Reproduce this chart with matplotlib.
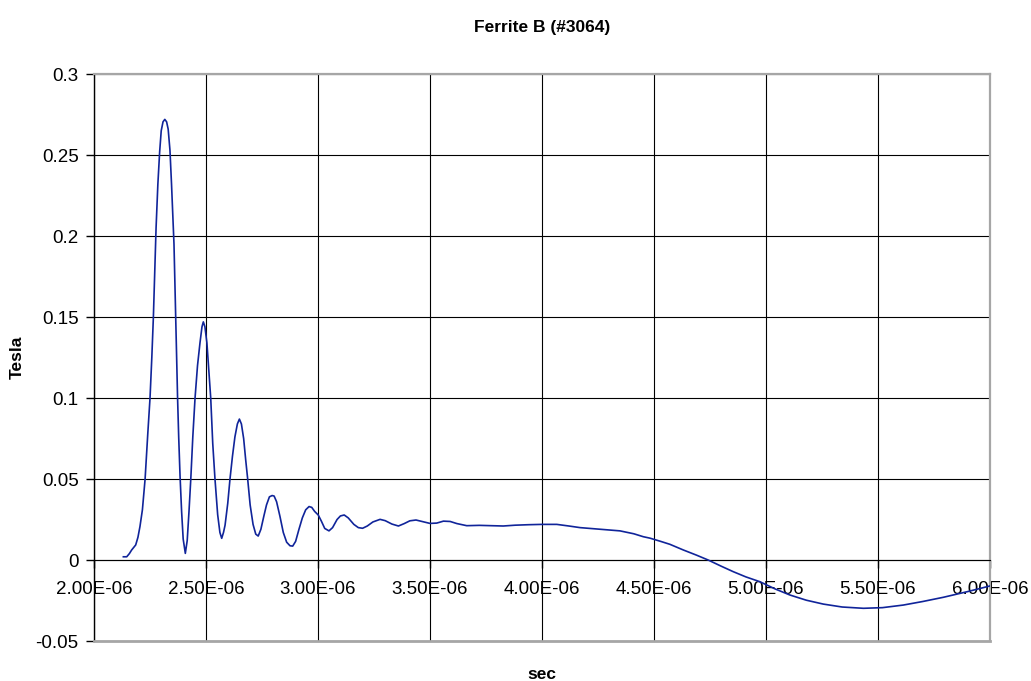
import numpy as np
import matplotlib
matplotlib.use("Agg")
import matplotlib.pyplot as plt
from matplotlib.ticker import FuncFormatter, MultipleLocator

plt.rcParams['font.family'] = ['Liberation Sans', 'DejaVu Sans']

# time in microseconds, flux density in tesla
time_us = [2.131, 2.146, 2.158, 2.168, 2.186, 2.196, 2.205, 2.216, 2.228, 2.240,
           2.250, 2.258, 2.265, 2.271, 2.277, 2.285, 2.293, 2.300, 2.308, 2.316,
           2.324, 2.331, 2.339, 2.346, 2.352, 2.357, 2.361, 2.365, 2.369, 2.373,
           2.378, 2.384, 2.391, 2.398, 2.4076, 2.416, 2.424, 2.432, 2.441, 2.451,
           2.462, 2.473, 2.482, 2.488, 2.495, 2.504, 2.512, 2.521, 2.530, 2.540,
           2.552, 2.562, 2.570, 2.578, 2.585, 2.597, 2.607, 2.618, 2.629, 2.640,
           2.649, 2.658, 2.668, 2.677, 2.686, 2.697, 2.710, 2.722, 2.733, 2.745,
           2.758, 2.770, 2.783, 2.795, 2.804, 2.815, 2.830, 2.845, 2.860, 2.875,
           2.887, 2.900, 2.915, 2.930, 2.945, 2.960, 2.972, 2.985, 3.001, 3.015,
           3.030, 3.049, 3.065, 3.085, 3.100, 3.117, 3.135, 3.160, 3.180, 3.199,
           3.220, 3.245, 3.277, 3.300, 3.330, 3.359, 3.385, 3.410, 3.4375, 3.470,
           3.500, 3.530, 3.560, 3.590, 3.620, 3.664, 3.720, 3.780, 3.827, 3.880,
           3.940, 4.000, 4.066, 4.120, 4.170, 4.260, 4.348, 4.410, 4.452, 4.482,
           4.530, 4.571, 4.631, 4.690, 4.742, 4.800, 4.854, 4.910, 4.973, 5.040,
           5.107, 5.180, 5.256, 5.340, 5.435, 5.520, 5.613, 5.700, 5.792, 5.900,
           6.000]
tesla = [0.002, 0.002, 0.004, 0.0062, 0.0093, 0.014, 0.0206, 0.031, 0.050, 0.078,
         0.100, 0.125, 0.150, 0.178, 0.205, 0.232, 0.252, 0.265, 0.2705, 0.272,
         0.2705, 0.266, 0.253, 0.232, 0.212, 0.195, 0.172, 0.150, 0.124, 0.100,
         0.076, 0.052, 0.030, 0.013, 0.0041, 0.012, 0.030, 0.050, 0.076, 0.100,
         0.120, 0.134, 0.144, 0.147, 0.144, 0.134, 0.118, 0.100, 0.072, 0.050,
         0.028, 0.017, 0.0134, 0.017, 0.0215, 0.035, 0.050, 0.064, 0.076, 0.084,
         0.087, 0.084, 0.075, 0.062, 0.050, 0.034, 0.022, 0.016, 0.0148, 0.019,
         0.027, 0.034, 0.039, 0.0398, 0.0395, 0.036, 0.027, 0.017, 0.011, 0.0088,
         0.0086, 0.0115, 0.019, 0.026, 0.031, 0.033, 0.0325, 0.030, 0.0278, 0.024,
         0.0195, 0.018, 0.020, 0.025, 0.0272, 0.0278, 0.026, 0.022, 0.0200, 0.0196,
         0.021, 0.0235, 0.0251, 0.0243, 0.0222, 0.0210, 0.0225, 0.0242, 0.0247, 0.0236,
         0.0226, 0.0228, 0.0240, 0.0238, 0.0225, 0.0212, 0.0214, 0.0212, 0.0210, 0.0215,
         0.0218, 0.0220, 0.0220, 0.0210, 0.0200, 0.0190, 0.0180, 0.0162, 0.0144, 0.0135,
         0.0115, 0.0097, 0.0062, 0.0030, 0.0, -0.0038, -0.0072, -0.0104, -0.0134, -0.0178,
         -0.0216, -0.0248, -0.0272, -0.0290, -0.0298, -0.0294, -0.0278, -0.0256, -0.0230, -0.0195,
         -0.0160]

t = np.array(time_us) * 1e-6
b = np.array(tesla)

fig = plt.figure(figsize=(10.31, 6.81), dpi=100)
ax = fig.add_axes([0.0912, 0.0587, 0.869, 0.8326])

ax.plot(t, b, color='#10249a', lw=1.2, zorder=4)

ax.set_xlim(2e-6, 6e-6)
ax.set_ylim(-0.05, 0.3)
ax.xaxis.set_major_locator(MultipleLocator(0.5e-6))
ax.yaxis.set_major_locator(MultipleLocator(0.05))
ax.xaxis.set_major_formatter(FuncFormatter(lambda v, p: f"{v:.2E}"))
ax.yaxis.set_major_formatter(FuncFormatter(lambda v, p: f"{round(v, 4):g}"))

ax.grid(True, color='black', lw=0.8)
ax.set_axisbelow(True)

gray = '#a6a6a6'
for s in ['top', 'right']:
    ax.spines[s].set_color(gray)
    ax.spines[s].set_linewidth(1.6)
ax.spines['left'].set_color('black')
ax.spines['left'].set_linewidth(1.0)
ax.spines['bottom'].set_position(('data', 0))
ax.spines['bottom'].set_color('black')
ax.spines['bottom'].set_linewidth(0.8)
ax.axhline(-0.05, color=gray, lw=2.0, zorder=3, clip_on=False)

ax.tick_params(axis='both', direction='out', length=6, width=1, labelsize=13.5,
               colors='black')
ax.tick_params(axis='y', pad=5)
ax.tick_params(axis='x', pad=9)

fig.text(0.526, 0.960, 'Ferrite B (#3064)', ha='center', va='center',
         fontsize=12.5, fontweight='bold')
fig.text(0.526, 0.009, 'sec', ha='center', va='center',
         fontsize=12.5, fontweight='bold')
fig.text(0.017, 0.475, 'Tesla', ha='center', va='center', rotation=90,
         fontsize=12.5, fontweight='bold')

fig.savefig('out.png', dpi=100)
